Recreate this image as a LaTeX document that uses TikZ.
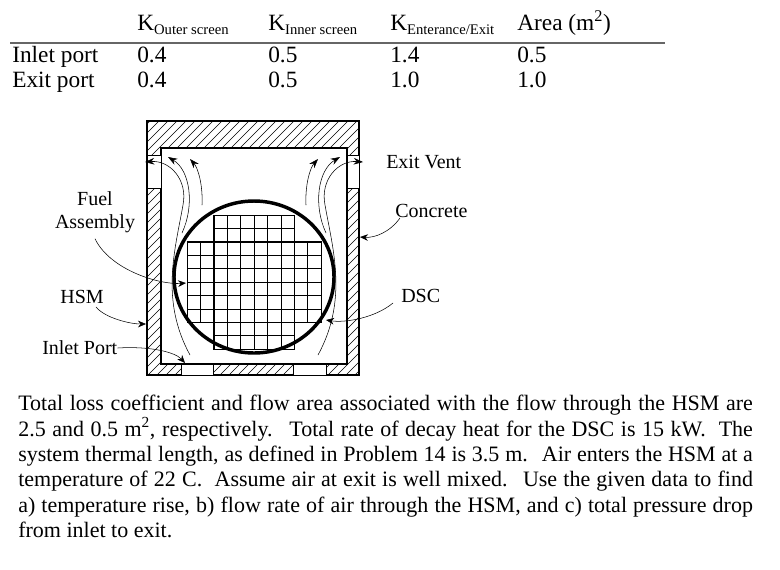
\documentclass[tikz,border=0pt]{standalone}
\usepackage{fontspec}
\setmainfont{Liberation Serif}
\usetikzlibrary{positioning, arrows.meta}
\tikzset{
	lbl/.style={font=\fontsize{15}{17}\selectfont, inner sep=0pt},
	tbl/.style={font=\fontsize{17.5}{19}\selectfont, anchor=base west, inner sep=0pt},
	pointer/.style={-{Stealth[length=6pt,width=5pt]}, thin},
	flow/.style={-{Stealth[length=7pt,width=5pt]}, thin}
}
\newcommand{\ksub}[1]{K\raisebox{-0.4ex}{\fontsize{11}{11}\selectfont #1}}
\begin{document}
\begin{tikzpicture}[x=0.75pt, y=-0.75pt]
		\useasboundingbox (0, 0) rectangle (780, 569);

		% table
		\node[tbl] (h1) at (137, 30) {\ksub{Outer screen}};
		\node[tbl] (h2) at (268, 30) {\ksub{Inner screen}};
		\node[tbl] (h3) at (390, 30) {\ksub{Enterance/Exit}};
		\node[tbl] (h4) at (517, 30) {Area (m\textsuperscript{2})};
		\draw[line width=1pt, gray!80!black] (10, 43) -- (665, 43);
		\node[tbl] (r1) at (12, 62) {Inlet port};
		\node[tbl] (r2) at (12, 87) {Exit port};
		\foreach \x/\a/\b in {137/0.4/0.4, 268/0.5/0.5, 390/1.4/1.0, 517/0.5/1.0} {
			\node[tbl] at (\x, 62) {\a};
			\node[tbl] at (\x, 87) {\b};
		}

		% concrete walls with hatching
		\begin{scope}
			\clip (147, 121) rectangle (359, 375);
			\foreach \i in {-260, -251, ..., 220}
				\draw[line width=0.4pt] (147 + \i, 375) -- ++(260, -260);
		\end{scope}
		\filldraw[fill=white, thick] (161, 148) rectangle (347, 364);
		\draw[thick] (147, 121) rectangle (359, 375);
		\filldraw[fill=white] (147, 155) rectangle (161, 188);
		\filldraw[fill=white] (347, 155) rectangle (359, 188);
		\filldraw[fill=white] (181, 364) rectangle (213, 375);
		\filldraw[fill=white] (293, 364) rectangle (326, 375);

		% fuel assemblies
		\newcommand{\cell}{13.4}
		\begin{scope}[shift={(187, 215)}]
			\foreach \r in {0, ..., 9} {
				\pgfmathsetmacro{\cs}{(\r < 2 || \r > 7) ? 2 : 0}
				\pgfmathsetmacro{\ce}{(\r < 2 || \r > 7) ? 8 : 10}
				\foreach \c in {0, ..., 9} {
					\pgfmathparse{(\c >= \cs && \c < \ce) ? 1 : 0}
					\ifnum\pgfmathresult=1
						\draw (\c * \cell, \r * \cell) rectangle ++(\cell, \cell);
					\fi
				}
			}
			\draw[semithick] (0, 2 * \cell) rectangle (10 * \cell, 8 * \cell);
			\draw[semithick] (2 * \cell, 0) rectangle (8 * \cell, 10 * \cell);
			\foreach \k in {4, 6} {
				\draw[semithick] (\k * \cell, 0) -- (\k * \cell, 10 * \cell);
				\draw[semithick] (0, \k * \cell) -- (10 * \cell, \k * \cell);
			}
		\end{scope}

		% canister
		\draw[line width=2.6pt] (254, 277) ellipse (80 and 76);

		% air flow, left and right
		\foreach \s in {1, -1} {
			\begin{scope}[shift={(254, 0)}, xscale=\s]
				\draw[flow] (-64, 355) .. controls (-94, 300) and (-79, 250) .. (-71, 205) .. controls (-66, 180) and (-84, 160) .. (-109, 162);
				\draw[flow] (-72, 233) .. controls (-59, 205) and (-64, 170) .. (-86, 157);
				\draw[flow] (-52, 205) .. controls (-51, 185) and (-56, 168) .. (-64, 159);
			\end{scope}
		}

		% labels
		\node[lbl, align=center] (fuel) at (95, 212) {Fuel\\Assembly};
		\node[lbl] (hsm) at (82, 297) {HSM};
		\node[lbl, anchor=west] (inlet) at (42, 348) {Inlet Port};
		\node[lbl, anchor=west] (vent) at (386, 162) {Exit Vent};
		\node[lbl, anchor=west] (concrete) at (395, 211) {Concrete};
		\node[lbl, anchor=west] (dsc) at (401, 296) {DSC};

		\coordinate (fuelend) at (186, 283);
		\coordinate (hsmend) at (146, 324);
		\coordinate (inletend) at (185, 363);
		\coordinate (concend) at (360, 237);
		\coordinate (dscend) at (326, 320);

		\draw[pointer] (fuel.south) ++(0, 6) .. controls (110, 270) and (160, 285) .. (fuelend);
		\draw[pointer] (hsm.south) ++(14, 3) .. controls (105, 318) and (130, 324) .. (hsmend);
		\draw[pointer] (inlet.east) .. controls (150, 346) and (175, 352) .. (inletend);
		\draw[pointer] (concrete.south west) ++(5, 0) .. controls (390, 232) and (375, 238) .. (concend);
		\draw[pointer] (dsc.south west) ++(-8, 0) .. controls (375, 318) and (345, 323) .. (dscend);

		% problem statement
		\node[anchor=north west, inner sep=0pt, text width=551pt, align=justify,
			font=\fontsize{16.5}{19}\selectfont] (text) at (18, 395)
			{Total loss coefficient and flow area associated with the flow through the HSM are 2.5 and 0.5 m\textsuperscript{2}, respectively. \ Total rate of decay heat for the DSC is 15 kW. \ The system thermal length, as defined in Problem 14 is 3.5 m. \ Air enters the HSM at a temperature of 22 C. \ Assume air at exit is well mixed. \ Use the given data to find a) temperature rise, b) flow rate of air through the HSM, and c) total pressure drop from inlet to exit.};

	\end{tikzpicture}
\end{document}
